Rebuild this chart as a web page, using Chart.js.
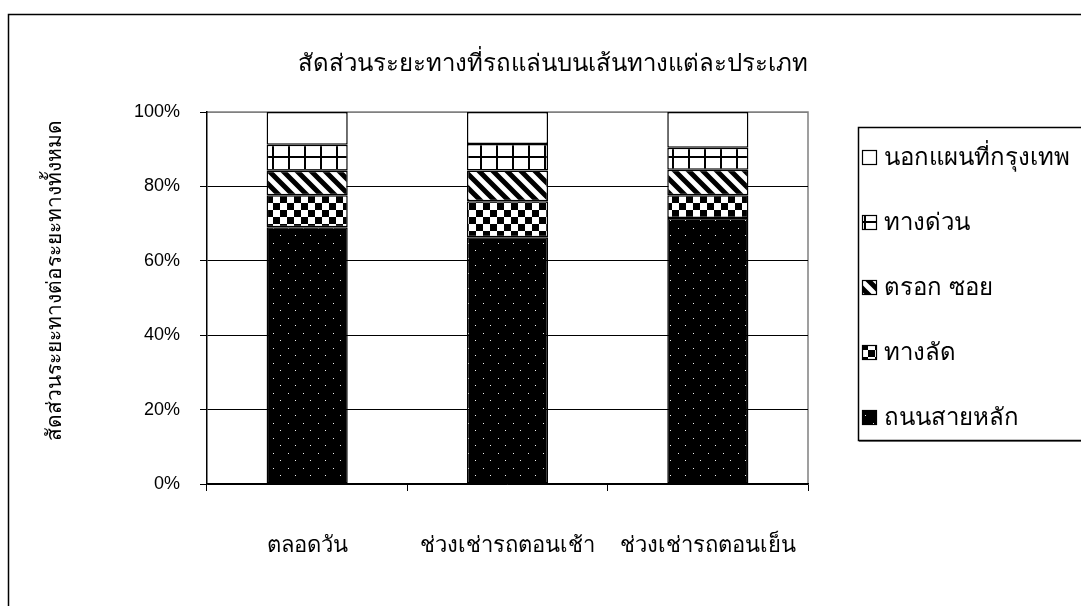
<!DOCTYPE html>
<html>
<head>
<meta charset="utf-8">
<script src="https://cdn.jsdelivr.net/npm/chart.js@4.4.0/dist/chart.umd.min.js"></script>
<style>
  html, body { margin: 0; padding: 0; background: #fff; }
  #wrap { width: 1081px; height: 606px; }
</style>
</head>
<body>
<div id="wrap"><canvas id="chart" width="1081" height="606"></canvas></div>
<script>
// share of distance (%) by road type, per period
const periods = ['ตลอดวัน', 'ช่วงเช่ารถตอนเช้า', 'ช่วงเช่ารถตอนเย็น'];
const mainRoad = [69.0, 66.3, 71.5];
const shortcut = [8.6, 9.7, 6.1];
const alley = [6.6, 8.3, 6.9];
const expressway = [7.0, 7.1, 5.9];
const outsideBkk = [8.8, 8.6, 9.6];
const seriesNames = ['ถนนสายหลัก', 'ทางลัด', 'ตรอก ซอย', 'ทางด่วน', 'นอกแผนที่กรุงเทพ'];
const yTicks = [0, 20, 40, 60, 80, 100];
const chartTitle = 'สัดส่วนระยะทางที่รถแล่นบนเส้นทางแต่ละประเภท';
const yTitle = 'สัดส่วนระยะทางต่อระยะทางทั้งหมด';

const FONT = "'Liberation Sans', 'Noto Sans', sans-serif";

const canvas = document.getElementById('chart');
const ctx = canvas.getContext('2d');

function tile(w, h, draw) {
  const c = document.createElement('canvas');
  c.width = w; c.height = h;
  const g = c.getContext('2d');
  g.fillStyle = '#fff';
  g.fillRect(0, 0, w, h);
  draw(g, w, h);
  return ctx.createPattern(c, 'repeat');
}

// black with sparse white dots
const dotFill = tile(15, 15, (g, w, h) => {
  g.fillStyle = '#000'; g.fillRect(0, 0, w, h);
  g.fillStyle = '#f0f0f0';
  g.fillRect(3, 3, 1, 1);
  g.fillRect(10, 10, 1, 1);
});
// big checkerboard
const checkFill = tile(14, 14, (g) => {
  g.fillStyle = '#000';
  g.fillRect(0, 0, 7, 7);
  g.fillRect(7, 7, 7, 7);
});
// wide downward diagonal
const diagFill = tile(14, 14, (g, w) => {
  g.strokeStyle = '#000'; g.lineWidth = 5;
  g.beginPath();
  for (let k = -1; k <= 1; k++) {
    g.moveTo(k * w - 2, -2);
    g.lineTo(k * w + w + 2, w + 2);
  }
  g.stroke();
});
// large grid
const gridFill = tile(16, 13, (g, w, h) => {
  g.fillStyle = '#000';
  g.fillRect(0, 0, 2, h);
  g.fillRect(0, 0, w, 2);
});

const fills = [dotFill, checkFill, diagFill, gridFill, '#fff'];
const series = [mainRoad, shortcut, alley, expressway, outsideBkk];

const datasets = series.map((vals, i) => ({
  label: seriesNames[i],
  data: vals,
  backgroundColor: fills[i],
  borderColor: '#000',
  borderWidth: 1.5,
  borderSkipped: false,
  categoryPercentage: 1,
  barPercentage: 0.405
}));

const decor = {
  id: 'decor',
  beforeDraw(chart) {
    const c = chart.ctx;
    const a = chart.chartArea;
    c.save();
    c.fillStyle = '#fff';
    c.fillRect(0, 0, chart.width, chart.height);
    // outer frame (runs off the right and bottom)
    c.strokeStyle = '#000'; c.lineWidth = 1.5;
    c.beginPath();
    c.moveTo(8.5, chart.height); c.lineTo(8.5, 14.5); c.lineTo(chart.width, 14.5);
    c.stroke();
    // plot area border
    c.strokeStyle = '#808080'; c.lineWidth = 1.5;
    c.beginPath();
    c.moveTo(a.left, a.top); c.lineTo(a.right, a.top); c.lineTo(a.right, a.bottom);
    c.stroke();
    c.restore();
  },
  afterDraw(chart) {
    const c = chart.ctx;
    c.save();
    c.fillStyle = '#000';
    c.font = '24px ' + FONT;
    c.textAlign = 'center';
    c.textBaseline = 'middle';
    c.fillText(chartTitle, 553, 64);

    c.translate(55, 280);
    c.rotate(-Math.PI / 2);
    c.font = '21px ' + FONT;
    c.fillText(yTitle, 0, 0);
    c.restore();

    // legend, top item is the last series
    c.save();
    c.fillStyle = '#fff';
    c.fillRect(858, 127, 240, 313);
    c.strokeStyle = '#808080'; c.lineWidth = 2;
    c.beginPath(); c.moveTo(859, 441); c.lineTo(chart.width, 441); c.stroke();
    c.strokeStyle = '#000'; c.lineWidth = 1.5;
    c.strokeRect(858.5, 127.5, 240, 313);
    c.font = '24px ' + FONT;
    c.textBaseline = 'middle';
    c.textAlign = 'left';
    for (let i = 0; i < seriesNames.length; i++) {
      const k = seriesNames.length - 1 - i;
      const y = 158 + i * 65;
      c.fillStyle = fills[k];
      c.fillRect(862, y - 8, 15, 15);
      c.strokeStyle = '#000'; c.lineWidth = 1.2;
      c.strokeRect(862.5, y - 7.5, 14, 14);
      c.fillStyle = '#000';
      c.fillText(seriesNames[k], 884, y);
    }
    c.restore();
  }
};

new Chart(canvas, {
  type: 'bar',
  data: { labels: periods, datasets: datasets },
  options: {
    responsive: false,
    animation: false,
    layout: { padding: { left: 27, top: 112, right: 273, bottom: 0 } },
    plugins: {
      legend: { display: false },
      title: { display: false },
      tooltip: { enabled: false }
    },
    scales: {
      x: {
        stacked: true,
        afterFit: s => { s.height = 122; },
        grid: {
          offset: true,
          drawOnChartArea: false,
          drawTicks: true,
          tickLength: 7,
          color: '#000',
          lineWidth: 1
        },
        border: { color: '#000', width: 1.5 },
        ticks: {
          color: '#000',
          padding: 42,
          font: { size: 22, family: FONT }
        }
      },
      y: {
        stacked: true,
        min: 0,
        max: 100,
        afterFit: s => { s.width = 180; },
        afterBuildTicks: s => { s.ticks = yTicks.map(v => ({ value: v })); },
        grid: {
          color: ctx => (ctx.tick && ctx.tick.value === 100) ? '#808080' : '#000',
          lineWidth: 1,
          tickLength: 7,
          tickColor: '#000'
        },
        border: { color: '#000', width: 1.5 },
        ticks: {
          color: '#000',
          padding: 20,
          font: { size: 18, family: FONT },
          callback: v => v + '%'
        }
      }
    }
  },
  plugins: [decor]
});
</script>
</body>
</html>
